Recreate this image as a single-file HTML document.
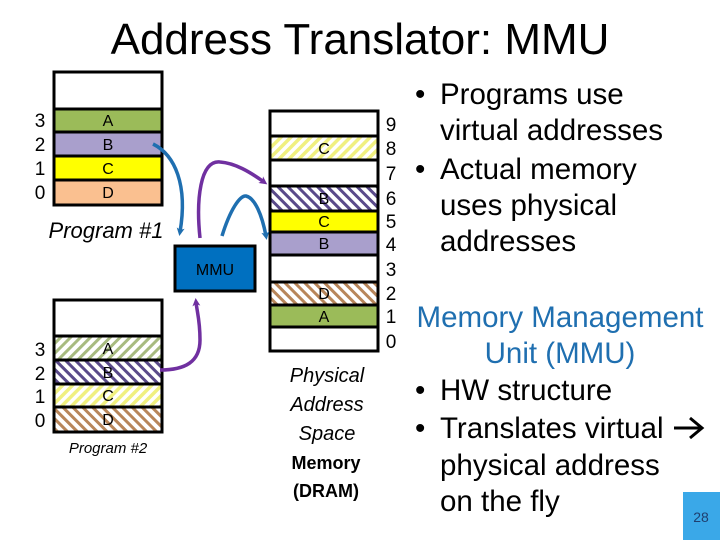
<!DOCTYPE html>
<html><head><style>body{margin:0;background:#fff}svg{display:block}text{font-family:"Liberation Sans",sans-serif}</style></head><body>
<svg width="720" height="540" viewBox="0 0 720 540" xmlns="http://www.w3.org/2000/svg">
<defs>
<pattern id="hy" width="7" height="7" patternUnits="userSpaceOnUse" patternTransform="rotate(45)"><rect width="7" height="7" fill="#fff"/><rect width="3.5" height="7" fill="#f0f080"/></pattern>
<pattern id="hp" width="7" height="7" patternUnits="userSpaceOnUse" patternTransform="rotate(-45)"><rect width="7" height="7" fill="#fff"/><rect width="3" height="7" fill="#5a4a8a"/></pattern>
<pattern id="hb" width="7" height="7" patternUnits="userSpaceOnUse" patternTransform="rotate(-45)"><rect width="7" height="7" fill="#fff"/><rect width="3" height="7" fill="#b8865a"/></pattern>
<pattern id="hg" width="7" height="7" patternUnits="userSpaceOnUse" patternTransform="rotate(45)"><rect width="7" height="7" fill="#fff"/><rect width="3" height="7" fill="#a8bb80"/></pattern>
<marker id="ab" markerWidth="8" markerHeight="8" refX="4" refY="4" orient="auto" markerUnits="userSpaceOnUse"><path d="M0,0 L8,4 L0,8 L2,4z" fill="#1f6fb0"/></marker>
<marker id="ap" markerWidth="8" markerHeight="8" refX="4" refY="4" orient="auto" markerUnits="userSpaceOnUse"><path d="M0,0 L8,4 L0,8 L2,4z" fill="#7030a0"/></marker>
</defs>
<text x="360" y="54" font-size="44" text-anchor="middle">Address Translator: MMU</text>
<g stroke="#000" stroke-width="3">
<rect x="54" y="72" width="108" height="37" fill="#fff"/>
<rect x="54" y="109" width="108" height="23" fill="#9bbb59"/>
<rect x="54" y="132" width="108" height="24" fill="#a99fcc"/>
<rect x="54" y="156" width="108" height="24" fill="#ffff00"/>
<rect x="54" y="180" width="108" height="25" fill="#fac090"/>
<rect x="54" y="300" width="108" height="36" fill="#fff"/>
<rect x="54" y="336" width="108" height="24" fill="url(#hg)"/>
<rect x="54" y="360" width="108" height="24" fill="url(#hp)"/>
<rect x="54" y="384" width="108" height="23" fill="url(#hy)"/>
<rect x="54" y="407" width="108" height="25" fill="url(#hb)"/>
<rect x="270" y="111" width="108" height="25" fill="#fff"/>
<rect x="270" y="136" width="108" height="24" fill="url(#hy)"/>
<rect x="270" y="160" width="108" height="26" fill="#fff"/>
<rect x="270" y="186" width="108" height="25" fill="url(#hp)"/>
<rect x="270" y="211" width="108" height="21" fill="#ffff00"/>
<rect x="270" y="232" width="108" height="23" fill="#a99fcc"/>
<rect x="270" y="255" width="108" height="27" fill="#fff"/>
<rect x="270" y="282" width="108" height="23" fill="url(#hb)"/>
<rect x="270" y="305" width="108" height="22" fill="#9bbb59"/>
<rect x="270" y="327" width="108" height="24" fill="#fff"/>
<rect x="175" y="246" width="80" height="45" fill="#0070c0"/>
</g>
<g font-size="16" text-anchor="middle">
<text x="108" y="126">A</text><text x="108" y="150">B</text><text x="108" y="174">C</text><text x="108" y="198">D</text>
<text x="108" y="354">A</text><text x="108" y="378">B</text><text x="108" y="401">C</text><text x="108" y="425">D</text>
<text x="324" y="154">C</text><text x="324" y="204">B</text><text x="324" y="227">C</text><text x="324" y="249">B</text><text x="324" y="299">D</text><text x="324" y="322">A</text>
<text x="215" y="275">MMU</text>
</g>
<g font-size="19" text-anchor="middle">
<text x="40" y="127">3</text><text x="40" y="151">2</text><text x="40" y="175">1</text><text x="40" y="199">0</text>
<text x="40" y="356">3</text><text x="40" y="380">2</text><text x="40" y="403">1</text><text x="40" y="427">0</text>
<text x="391" y="131">9</text><text x="391" y="155">8</text><text x="391" y="180">7</text><text x="391" y="205">6</text><text x="391" y="228">5</text><text x="391" y="251">4</text><text x="391" y="276">3</text><text x="391" y="300">2</text><text x="391" y="323">1</text><text x="391" y="348">0</text>
</g>
<text x="106" y="238" font-size="22" font-style="italic" text-anchor="middle">Program #1</text>
<text x="108" y="453" font-size="15" font-style="italic" text-anchor="middle">Program #2</text>
<g font-size="20" font-style="italic" text-anchor="middle"><text x="327" y="382">Physical</text><text x="327" y="411">Address</text><text x="327" y="440">Space</text></g>
<g font-size="18" font-weight="bold" text-anchor="middle"><text x="326" y="469">Memory</text><text x="326" y="497">(DRAM)</text></g>
<g fill="none" stroke-width="3.5">
<path d="M153,144 C175,155 188,185 180,232" stroke="#1f6fb0" marker-end="url(#ab)"/>
<path d="M200,238 C196,200 200,160 220,162 C235,163 250,172 264,182" stroke="#7030a0" marker-end="url(#ap)"/>
<path d="M222,236 C230,210 240,195 246,196 C255,198 262,215 266,236" stroke="#1f6fb0" marker-end="url(#ab)"/>
<path d="M160,370 C185,370 200,362 200,340 C200,320 197,312 196,302" stroke="#7030a0" marker-end="url(#ap)"/>
</g>
<g font-size="29.5">
<text x="415" y="104">•</text><text x="440" y="104">Programs use</text>
<text x="440" y="140">virtual addresses</text>
<text x="415" y="179">•</text><text x="440" y="179">Actual memory</text>
<text x="440" y="215">uses physical</text>
<text x="440" y="251">addresses</text>
<text x="560" y="327" fill="#1f6fb0" text-anchor="middle">Memory Management</text>
<text x="560" y="363" fill="#1f6fb0" text-anchor="middle">Unit (MMU)</text>
<text x="415" y="400">•</text><text x="440" y="400">HW structure</text>
<text x="415" y="438">•</text><text x="440" y="438">Translates virtual</text>
<text x="440" y="475">physical address</text>
<text x="440" y="511">on the fly</text>
</g>
<path d="M674,428 L701,428 M690,418 L702,428 L690,438" fill="none" stroke="#000" stroke-width="3"/>
<rect x="683" y="492" width="37" height="48" fill="#3aa8e8"/>
<text x="701" y="522" font-size="14" fill="#1f3f6f" text-anchor="middle">28</text>
</svg>
</body></html>
